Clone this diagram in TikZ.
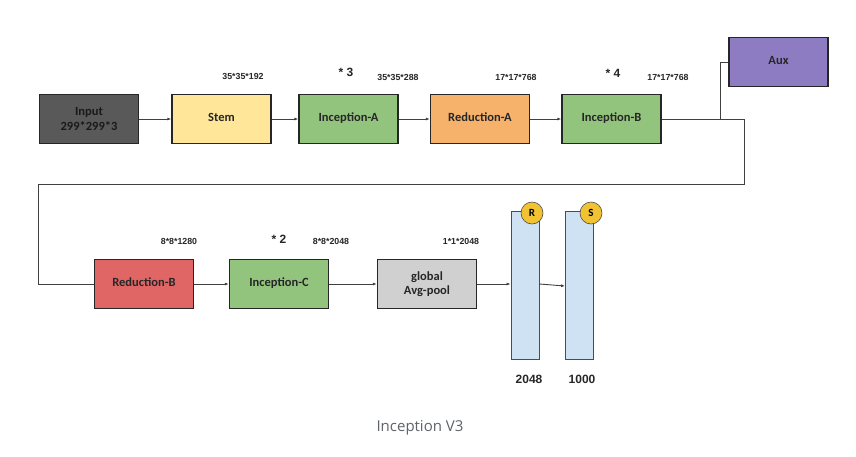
\documentclass[tikz,border=0pt]{standalone}
\usepackage{fontspec}
\setmainfont{Liberation Sans}
\newfontfamily\boxfont{Carlito}
\newfontfamily\capfont{Open Sans}
\usetikzlibrary{arrows.meta}
\newcommand\uptext[1]{\raisebox{4pt}{#1}}
\definecolor{cinput}{HTML}{595959}
\definecolor{cstem}{HTML}{FFE699}
\definecolor{cgreen}{HTML}{93C47D}
\definecolor{corange}{HTML}{F6B26B}
\definecolor{cred}{HTML}{E06666}
\definecolor{cpurple}{HTML}{8E7CC3}
\definecolor{cgray}{HTML}{D0D0D0}
\definecolor{cblue}{HTML}{CFE2F3}
\definecolor{cyel}{HTML}{F1C232}
\definecolor{cline}{HTML}{404040}
\definecolor{ccap}{HTML}{5F6368}
\tikzset{
  blk/.style={draw=black!85, line width=1.3pt, minimum width=99pt, minimum height=49pt, inner sep=0pt, align=center, font=\boxfont\fontsize{12.5}{14.5}\selectfont\bfseries, text=black!85},
  bar/.style={draw=black!70, line width=0.8pt, fill=cblue, minimum width=28pt, minimum height=148pt, inner sep=0pt},
  dim/.style={font=\fontsize{8.8}{10}\selectfont\bfseries, text=black!85},
  rep/.style={font=\fontsize{12}{13}\selectfont\bfseries, text=black!85},
  conn/.style={draw=cline, line width=0.9pt},
  arr/.style={conn, -{Latex[length=4pt,width=3pt]}},
  badge/.style={circle, draw=black!70, line width=0.6pt, fill=cyel, minimum size=22pt, inner sep=0pt, font=\boxfont\fontsize{11}{12}\selectfont\bfseries}
}
\begin{document}
\begin{tikzpicture}[x=1pt,y=-1pt]
\useasboundingbox (0,0) rectangle (856,456);
% row 1
\node[blk, fill=cinput, text=black!90] (input) at (89,119) {Input\\299*299*3};
\node[blk, fill=cstem] (stem) at (221.5,119) {\uptext{Stem}};
\node[blk, fill=cgreen] (inca) at (348.5,119) {\uptext{Inception-A}};
\node[blk, fill=corange] (reda) at (480,119) {\uptext{Reduction-A}};
\node[blk, fill=cgreen] (incb) at (611.5,119) {\uptext{Inception-B}};
\node[blk, fill=cpurple] (aux) at (778.5,62) {\uptext{Aux}};
% row 1 labels
\node[dim] (l1) at (243,76) {35*35*192};
\node[rep] (r3) at (346,72) {* 3};
\node[dim] (l2) at (398,77) {35*35*288};
\node[dim] (l3) at (516,77) {17*17*768};
\node[rep] (r4) at (613,73) {* 4};
\node[dim] (l4) at (668,77) {17*17*768};
% row 2
\node[blk, fill=cred] (redb) at (144,284) {\uptext{Reduction-B}};
\node[blk, fill=cgreen] (incc) at (279,284) {\uptext{Inception-C}};
\node[blk, fill=cgray] (pool) at (427,284) {global\\Avg-pool};
\node[bar] (fcr) at (525,285) {};
\node[bar] (fcs) at (579.5,285) {};
\node[badge] (br) at (532,213) {R};
\node[badge] (bs) at (591,213) {S};
\node[dim] (l5) at (179,241) {8*8*1280};
\node[rep] (r2) at (279,239) {* 2};
\node[dim] (l6) at (331,241) {8*8*2048};
\node[dim] (l7) at (461,241) {1*1*2048};
\node[rep] (n1) at (529,379) {2048};
\node[rep] (n2) at (582,379) {1000};
\node[text=ccap, font=\capfont\fontsize{15}{17}\selectfont] (cap) at (420,428) {Inception V3};
% connectors
\draw[arr] (input.east) -- (stem.west);
\draw[arr] (stem.east) -- (inca.west);
\draw[arr] (inca.east) -- (reda.west);
\draw[arr] (reda.east) -- (incb.west);
\coordinate (c1) at (744,119);
\coordinate (c2) at (744,184);
\coordinate (c3) at (38,184);
\coordinate (c4) at (38,284);
\coordinate (ca) at (720,119);
\draw[conn] (incb.east) -- (c1) -- (c2) -- (c3) -- (c4) -- (redb.west);
\draw[conn] (ca) |- (aux.west);
\draw[arr] (redb.east) -- (incc.west);
\draw[arr] (incc.east) -- (pool.west);
\draw[arr] (pool.east) -- (fcr.west |- pool.east);
\draw[arr] (fcr.east |- 0,284) -- (fcs.west |- 0,286);
\end{tikzpicture}
\end{document}
